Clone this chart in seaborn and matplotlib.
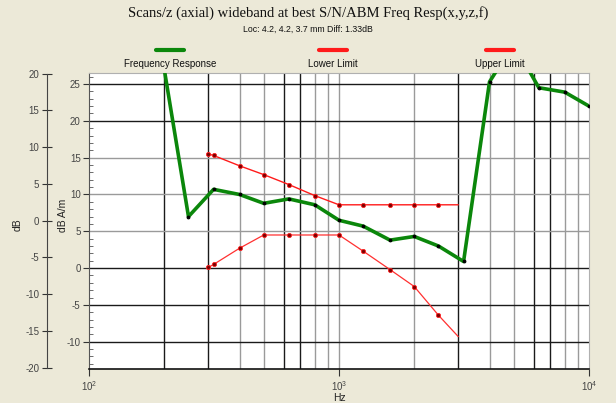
import matplotlib
matplotlib.use("Agg")
import matplotlib.pyplot as plt
import seaborn as sns
from matplotlib.lines import Line2D
from matplotlib.ticker import MultipleLocator, NullLocator, FixedLocator

# Frequency response (dB A/m), 1/3 octave points
resp_hz = [200, 250, 315, 400, 500, 630, 800, 1000, 1250, 1600, 2000, 2500,
           3150, 4000, 5000, 6300, 8000, 10000]
resp_db = [27.0, 7.0, 10.7, 10.0, 8.8, 9.4, 8.6, 6.5, 5.7, 3.8, 4.3, 3.0,
           0.9, 25.3, 30.5, 24.5, 23.9, 22.0]

# limit curves
limit_hz = [300, 315, 400, 500, 630, 800, 1000, 1250, 1600, 2000, 2500, 3000]
upper_db = [15.5, 15.3, 13.9, 12.7, 11.35, 9.85, 8.6, 8.6, 8.6, 8.6, 8.6, 8.6]
lower_db = [0.1, 0.5, 2.7, 4.5, 4.5, 4.5, 4.5, 2.3, -0.2, -2.5, -6.4, -9.3]

legend_labels = ["Frequency Response", "Lower Limit", "Upper Limit"]

sns.set_theme(style="white")
plt.rcParams["font.family"] = ["Liberation Sans", "DejaVu Sans"]
plt.rcParams["axes.unicode_minus"] = False

bg = "#ECE9D8"
fig = plt.figure(figsize=(6.16, 4.03), dpi=100, facecolor=bg)
ax = fig.add_axes([89 / 616, 1 - 369 / 403, 500 / 616, 296 / 403])
ax.set_facecolor("white")

# grid (dark and grey lines as in the original)
dark, grey = "#1a1a1a", "#9a9a9a"
for f, c in [(200, dark), (300, dark), (400, grey), (500, grey), (600, dark),
             (700, dark), (800, grey), (900, grey), (1000, grey), (2000, grey),
             (3000, dark), (4000, grey), (5000, grey), (6000, dark),
             (7000, dark), (8000, grey), (9000, grey)]:
    ax.axvline(f, color=c, lw=1.0, zorder=1)
for v, c in [(25, dark), (20, dark), (15, grey), (10, grey), (5, grey),
             (0, dark), (-5, dark), (-10, dark)]:
    ax.axhline(v, color=c, lw=1.0, zorder=1)

sns.lineplot(x=limit_hz, y=upper_db, ax=ax, color="#ff1a1a", lw=1.0,
             marker="o", ms=3.0, mfc="#7a0000", mec="#ff2020", mew=0.6,
             markevery=slice(0, -1), sort=False, zorder=3)
sns.lineplot(x=limit_hz, y=lower_db, ax=ax, color="#ff3030", lw=0.9,
             marker="o", ms=3.0, mfc="#7a0000", mec="#ff2020", mew=0.6,
             markevery=slice(0, -1), sort=False, zorder=3)
sns.lineplot(x=resp_hz, y=resp_db, ax=ax, color="#0b870b", lw=2.6,
             marker="o", ms=2.0, mfc="black", mec="black", sort=False,
             zorder=4)

ax.set_xscale("log")
ax.set_xlim(100, 10000)
ax.set_ylim(-13.7, 26.5)
ax.xaxis.set_major_locator(FixedLocator([100, 1000, 10000]))
ax.xaxis.set_minor_locator(NullLocator())
ax.yaxis.set_major_locator(MultipleLocator(5))
ax.yaxis.set_minor_locator(MultipleLocator(1))
ax.tick_params(axis="x", which="major", direction="out", length=5, width=0.8,
               labelsize=7, labelcolor="#444444", color="#333333", pad=2,
               bottom=True)
ax.tick_params(axis="y", which="major", direction="out", length=4, width=0.8,
               labelsize=7, labelcolor="#444444", color="#333333", pad=2,
               left=True)
ax.tick_params(axis="y", which="minor", direction="in", length=3, width=0.6,
               color="#555555", left=True)
ax.set_xlabel("Hz", fontsize=7.5, labelpad=0, color="#222222")
ax.set_ylabel("")

for side in ["top", "right"]:
    ax.spines[side].set_color("#b0b0b0")
    ax.spines[side].set_linewidth(0.8)
ax.spines["bottom"].set_color("#111111")
ax.spines["bottom"].set_linewidth(1.2)
ax.spines["left"].set_color("#555555")
ax.spines["left"].set_linewidth(0.8)

# outer dB axis (42 px to the left of the plot box)
ax2 = ax.twinx()
ax2.set_ylim(-20.2, 20.1)
ax2.yaxis.tick_left()
ax2.yaxis.set_major_locator(MultipleLocator(5))
for side in ["top", "right", "bottom"]:
    ax2.spines[side].set_visible(False)
ax2.spines["left"].set_visible(True)
ax2.spines["left"].set_position(("outward", 42 * 72 / 100))
ax2.spines["left"].set_bounds(-20, 20)
ax2.spines["left"].set_color("#444444")
ax2.spines["left"].set_linewidth(0.8)
ax2.tick_params(axis="y", direction="inout", length=7, width=0.8,
                labelsize=7, labelcolor="#444444", color="#333333", pad=2)

fig.text(18 / 616, 1 - 225 / 403, "dB", rotation=90, ha="center",
         va="center", fontsize=7.5, color="#222222")
fig.text(63 / 616, 1 - 215 / 403, "dB A/m", rotation=90, ha="center",
         va="center", fontsize=7.5, color="#222222")

# titles
fig.text(0.5, 1 - 13 / 403,
         "Scans/z (axial) wideband at best S/N/ABM Freq Resp(x,y,z,f)",
         ha="center", va="center", fontsize=10.5,
         family=["Liberation Serif", "DejaVu Serif"], color="#111111")
fig.text(0.5, 1 - 29 / 403, "Loc: 4.2, 4.2, 3.7 mm Diff: 1.33dB",
         ha="center", va="center", fontsize=6.3, color="#111111")

# legend: sample line above each label
for cx, lab, col in zip([170, 333, 500], legend_labels,
                        ["#0b870b", "#ff1a1a", "#ff1a1a"]):
    fig.add_artist(Line2D([(cx - 14) / 616, (cx + 14) / 616],
                          [1 - 50 / 403, 1 - 50 / 403], color=col, lw=3.0,
                          transform=fig.transFigure))
    fig.text(cx / 616, 1 - 64 / 403, lab, ha="center", va="center",
             fontsize=7, color="#111111")

fig.savefig("out.png", dpi=100, facecolor=bg)
